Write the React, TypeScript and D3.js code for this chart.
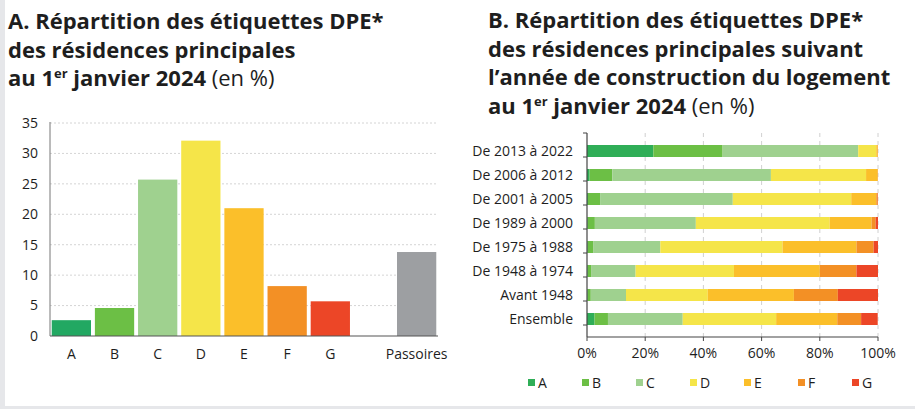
import React from 'react';
import * as d3 from 'd3';

// Graphique A : répartition des étiquettes DPE (en %)
const labelsA = ['A', 'B', 'C', 'D', 'E', 'F', 'G', '', 'Passoires'];
const valuesA = [2.6, 4.6, 25.7, 32.1, 21.0, 8.2, 5.7, null, 13.8];
const colorsA = ['#22a862', '#6cbf45', '#9fd18f', '#f5e549', '#fbbf2a', '#f39025', '#ec4627', 'none', '#9d9fa2'];
const ticksA = [0, 5, 10, 15, 20, 25, 30, 35];

// Graphique B : par année de construction
const periods = [
  'De 2013 à 2022',
  'De 2006 à 2012',
  'De 2001 à 2005',
  'De 1989 à 2000',
  'De 1975 à 1988',
  'De 1948 à 1974',
  'Avant 1948',
  'Ensemble',
];
const classes = ['A', 'B', 'C', 'D', 'E', 'F', 'G'];
const classColors = ['#2fae57', '#6cbf45', '#9fd18f', '#f5e549', '#fbbf2a', '#f39025', '#ec4627'];
const shareA = [22.8, 0.9, 0.3, 0.2, 0.2, 0.2, 0.2, 2.6];
const shareB = [23.8, 7.8, 4.2, 2.5, 1.9, 1.2, 1.1, 4.6];
const shareC = [46.6, 54.5, 45.6, 34.7, 23.1, 15.3, 12.1, 25.7];
const shareD = [6.2, 32.7, 40.7, 46.0, 42.0, 33.8, 28.1, 32.1];
const shareE = [0.5, 4.0, 8.6, 14.4, 25.4, 29.5, 29.6, 21.0];
const shareF = [0.1, 0.1, 0.5, 1.4, 5.9, 12.6, 15.1, 8.2];
const shareG = [0.0, 0.0, 0.1, 0.8, 1.5, 7.4, 13.8, 5.7];
const ticksB = [0, 20, 40, 60, 80, 100];

const FONT = "'Open Sans', sans-serif";
const W = 915;
const H = 409;
const LABEL = 14;

const Title = ({ x, y, lines }: { x: number; y: number; lines: string[] }) => (
  <text x={x} y={y} fontFamily={FONT} fontSize={22} fontWeight={700} fill="#1e1e1e">
    {lines.map((l, i) => (
      <tspan key={i} x={x} dy={i === 0 ? 0 : 28.5}>{l}</tspan>
    ))}
    <tspan x={x} dy={28.5}>au 1</tspan>
    <tspan fontSize={13} dy={-8}>er</tspan>
    <tspan dy={8}> janvier 2024 </tspan>
    <tspan fontWeight={400}>(en %)</tspan>
  </text>
);

const ChartA = () => {
  const left = 50, right = 438, top = 123, bottom = 336;
  const x = d3.scaleBand<string>().domain(labelsA.map((d, i) => d + i)).range([left, right]).paddingInner(0.09).paddingOuter(0.04);
  const y = d3.scaleLinear().domain([0, 35]).range([bottom, top]);
  return (
    <g>
      {ticksA.map(t => (
        <g key={t}>
          {t > 0 && <line x1={left} x2={right} y1={y(t)} y2={y(t)} stroke="#c9c9c9" strokeWidth={0.8} strokeDasharray="2,2" />}
          <text x={38} y={y(t)} dy="0.35em" textAnchor="end" fontFamily={FONT} fontSize={LABEL} fill="#1e1e1e">{t}</text>
        </g>
      ))}
      <line x1={left} x2={left} y1={top - 1} y2={bottom} stroke="#777" strokeWidth={1} />
      {labelsA.map((d, i) => {
        const v = valuesA[i];
        const key = d + i;
        return (
          <g key={key}>
            {v !== null && (
              <rect x={x(key)} y={y(v)} width={x.bandwidth()} height={y(0) - y(v)} fill={colorsA[i]} />
            )}
            <text x={(x(key) as number) + x.bandwidth() / 2} y={359} textAnchor="middle" fontFamily={FONT} fontSize={LABEL} fill="#1e1e1e">{d}</text>
          </g>
        );
      })}
      <line x1={left} x2={right} y1={bottom} y2={bottom} stroke="#555" strokeWidth={1.2} />
    </g>
  );
};

const ChartB = () => {
  const left = 587, right = 878, top = 133, bottom = 337;
  const x = d3.scaleLinear().domain([0, 100]).range([left, right]);
  const y = d3.scaleBand<string>().domain(periods).range([top, bottom]).padding(0.5);
  const rows = periods.map((p, i) => {
    const r: any = { period: p };
    [shareA, shareB, shareC, shareD, shareE, shareF, shareG].forEach((s, k) => { r[classes[k]] = s[i]; });
    return r;
  });
  const series = d3.stack<any>().keys(classes)(rows);
  const step = y.step();
  return (
    <g>
      {ticksB.filter(t => t > 0).map(t => (
        <line key={t} x1={x(t)} x2={x(t)} y1={top} y2={bottom} stroke="#c4c4c4" strokeWidth={0.8} strokeDasharray="4,4" />
      ))}
      {series.map((s, k) => (
        <g key={s.key} fill={classColors[k]}>
          {s.map((d, i) => (
            <rect key={i} x={x(d[0])} y={y(periods[i])} width={Math.max(0, x(d[1]) - x(d[0]))} height={y.bandwidth()} />
          ))}
        </g>
      ))}
      {periods.map(p => (
        <text key={p} x={573} y={(y(p) as number) + y.bandwidth() / 2} dy="0.35em" textAnchor="end" fontFamily={FONT} fontSize={LABEL} fill="#1e1e1e">{p}</text>
      ))}
      {d3.range(periods.length + 1).map(i => (
        <line key={i} x1={left - 4} x2={left} y1={top + i * step} y2={top + i * step} stroke="#444" strokeWidth={1} />
      ))}
      <line x1={left} x2={left} y1={top} y2={bottom} stroke="#444" strokeWidth={1.2} />
      <line x1={left} x2={right} y1={bottom} y2={bottom} stroke="#444" strokeWidth={1.2} />
      {ticksB.map(t => (
        <g key={t}>
          <line x1={x(t)} x2={x(t)} y1={bottom} y2={bottom + 4} stroke="#444" strokeWidth={1} />
          <text x={x(t)} y={358} textAnchor="middle" fontFamily={FONT} fontSize={LABEL} fill="#1e1e1e">{t}%</text>
        </g>
      ))}
      {classes.map((c, k) => {
        const lx = 528 + k * 54;
        return (
          <g key={c}>
            <rect x={lx} y={379} width={7} height={7} fill={classColors[k]} />
            <text x={lx + 10} y={383} dy="0.35em" fontFamily={FONT} fontSize={LABEL} fill="#1e1e1e">{c}</text>
          </g>
        );
      })}
    </g>
  );
};

export default function App() {
  return (
    <svg width={W} height={H} style={{ display: 'block', position: 'absolute', left: 0, top: 0 }}>
      <rect width={W} height={H} fill="#ffffff" />
      <rect x={0} y={0} width={5} height={H} fill="#e6e7ea" />
      <rect x={0} y={406} width={W} height={3} fill="#e6e7ea" />
      <Title x={8} y={29} lines={['A. Répartition des étiquettes DPE*', 'des résidences principales']} />
      <Title x={488} y={28} lines={['B. Répartition des étiquettes DPE*', 'des résidences principales suivant', 'l’année de construction du logement']} />
      <ChartA />
      <ChartB />
    </svg>
  );
}
